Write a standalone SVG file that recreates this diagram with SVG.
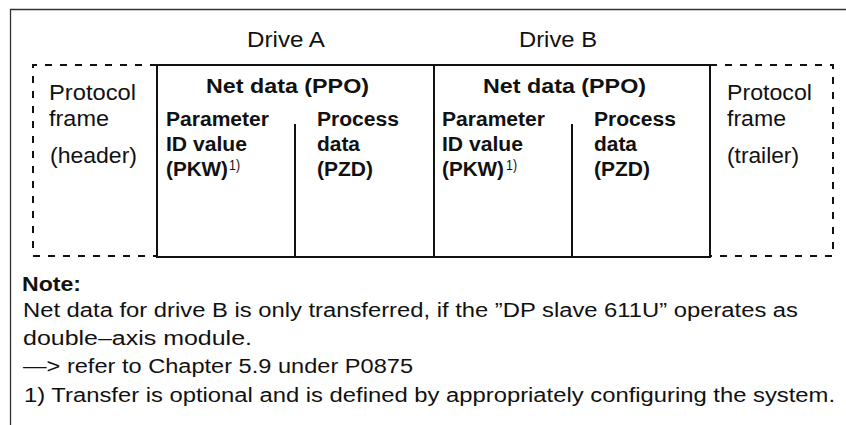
<svg xmlns="http://www.w3.org/2000/svg" width="846" height="425" viewBox="0 0 846 425">
<style>
text{font-family:"Liberation Sans",Arial,sans-serif;fill:#111}
.lg{font-size:22px}
.hb{font-size:21px;font-weight:bold}
.sb{font-size:19.5px;font-weight:bold}
.nt{font-size:20px}
.ntb{font-size:20px;font-weight:bold}
.sup{font-size:14px}
.frame{fill:none;stroke:#333;stroke-width:1.3}
.solid{fill:none;stroke:#111;stroke-width:2}
.dash{fill:none;stroke:#111;stroke-width:2;stroke-dasharray:7 8}
</style>
<rect width="846" height="425" fill="#fff"/>
<g id="outer-frame">
<path class="frame" d="M10.5 425V9.5H846"/>
</g>
<g id="drive-labels">
<text class="lg" x="247" y="47" textLength="78" lengthAdjust="spacingAndGlyphs">Drive A</text>
<text class="lg" x="519" y="47" textLength="78" lengthAdjust="spacingAndGlyphs">Drive B</text>
</g>
<g id="protocol-header">
<path class="dash" d="M157 65H33V256H157"/>
<text class="lg" x="49" y="100" textLength="87" lengthAdjust="spacingAndGlyphs">Protocol</text>
<text class="lg" x="49" y="126" textLength="60" lengthAdjust="spacingAndGlyphs">frame</text>
<text class="lg" x="50" y="163" textLength="87" lengthAdjust="spacingAndGlyphs">(header)</text>
</g>
<g id="net-data-a">
<path class="solid" d="M157 65H434V257H157Z"/>
<path class="solid" d="M295 124V257"/>
<text class="hb" x="206" y="93" textLength="163" lengthAdjust="spacingAndGlyphs">Net data (PPO)</text>
<text class="sb" x="166" y="126" textLength="103" lengthAdjust="spacingAndGlyphs">Parameter</text>
<text class="sb" x="166" y="151" textLength="81" lengthAdjust="spacingAndGlyphs">ID value</text>
<text class="sb" x="166" y="176" textLength="62" lengthAdjust="spacingAndGlyphs">(PKW)</text>
<text class="sup" x="229" y="170" textLength="11" lengthAdjust="spacingAndGlyphs">1)</text>
<text class="sb" x="317" y="126" textLength="82" lengthAdjust="spacingAndGlyphs">Process</text>
<text class="sb" x="317" y="151" textLength="43" lengthAdjust="spacingAndGlyphs">data</text>
<text class="sb" x="317" y="176" textLength="56" lengthAdjust="spacingAndGlyphs">(PZD)</text>
</g>
<g id="net-data-b">
<path class="solid" d="M434 65H710V257H434"/>
<path class="solid" d="M572 124V257"/>
<text class="hb" x="483" y="93" textLength="163" lengthAdjust="spacingAndGlyphs">Net data (PPO)</text>
<text class="sb" x="442" y="126" textLength="103" lengthAdjust="spacingAndGlyphs">Parameter</text>
<text class="sb" x="442" y="151" textLength="81" lengthAdjust="spacingAndGlyphs">ID value</text>
<text class="sb" x="442" y="176" textLength="62" lengthAdjust="spacingAndGlyphs">(PKW)</text>
<text class="sup" x="506" y="170" textLength="11" lengthAdjust="spacingAndGlyphs">1)</text>
<text class="sb" x="594" y="126" textLength="82" lengthAdjust="spacingAndGlyphs">Process</text>
<text class="sb" x="594" y="151" textLength="43" lengthAdjust="spacingAndGlyphs">data</text>
<text class="sb" x="594" y="176" textLength="56" lengthAdjust="spacingAndGlyphs">(PZD)</text>
</g>
<g id="protocol-trailer">
<path class="dash" d="M710 65H833V256H710"/>
<text class="lg" x="727" y="100" textLength="85" lengthAdjust="spacingAndGlyphs">Protocol</text>
<text class="lg" x="727" y="126" textLength="59" lengthAdjust="spacingAndGlyphs">frame</text>
<text class="lg" x="727" y="163" textLength="72" lengthAdjust="spacingAndGlyphs">(trailer)</text>
</g>
<g id="note">
<text class="ntb" x="22" y="291" textLength="59" lengthAdjust="spacingAndGlyphs">Note:</text>
<text class="nt" x="23" y="317" textLength="775" lengthAdjust="spacingAndGlyphs">Net data for drive B is only transferred, if the ”DP slave 611U” operates as</text>
<text class="nt" x="23" y="345" textLength="229" lengthAdjust="spacingAndGlyphs">double–axis module.</text>
<text class="nt" x="23" y="373" textLength="390" lengthAdjust="spacingAndGlyphs">—&gt; refer to Chapter 5.9 under P0875</text>
<text class="nt" x="24" y="402" textLength="811" lengthAdjust="spacingAndGlyphs">1) Transfer is optional and is defined by appropriately configuring the system.</text>
</g>
</svg>
